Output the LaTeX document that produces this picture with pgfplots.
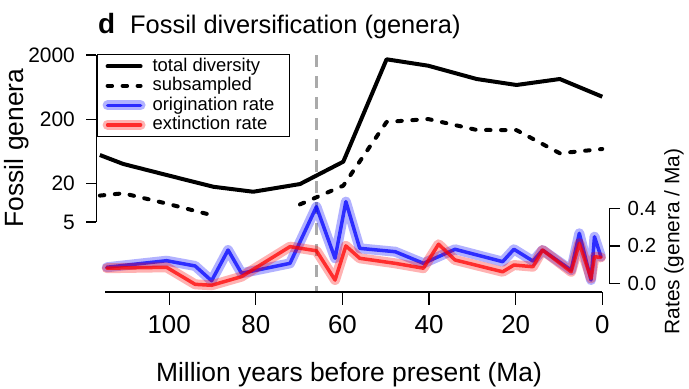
\documentclass[border=0pt]{standalone}
\usepackage{pgfplots}
\pgfplotsset{compat=1.18}
\usepackage{fontspec}
\setmainfont{Liberation Sans}
\definecolor{refgray}{RGB}{170,170,170}
\pgfplotsset{
  base/.style={scale only axis, width=512.8bp, xmin=-1.6, xmax=116.8, x dir=reverse, clip=false,
    axis line style={line width=1.2bp, black}, major tick style={line width=1.2bp, black},
    tick align=outside, /pgf/number format/assume math mode=true},
  mylegline/.style={legend image code/.code={\draw[##1] (0bp,0bp) -- (33bp,0bp);}},
  halo/.style={legend image code/.code={
     \draw[line width=10bp, #1, opacity=0.3, line cap=round] (0bp,0bp) -- (33bp,0bp);
     \draw[line width=3.5bp, #1, opacity=0.75, line cap=round] (0bp,0bp) -- (33bp,0bp);}},
}
\pgfplotstableread{
x y
116.0 55.3
110.6 40.1
100.6 27.0
89.8 17.7
80.6 14.8
69.8 19.5
59.8 43.5
49.8 1714
40.2 1362
29.0 845
19.8 682
9.8 845
0.0 448
}\total
\pgfplotstableread{
x y
116.0 12.9
110.6 14.0
100.6 9.7
89.8 6.3
}\subA
\pgfplotstableread{
x y
69.8 9.4
59.8 18.4
49.8 181
40.2 201
29.0 136
19.8 135
9.8 58.8
0.0 68.6
}\subB
\pgfplotstableread{
x y
114.4 0.086
100.6 0.121
94.0 0.093
90.2 0.014
86.4 0.178
83.3 0.054
72.1 0.107
66.0 0.409
61.7 0.134
59.2 0.436
56.0 0.187
47.8 0.169
41.3 0.107
34.0 0.182
23.0 0.116
20.4 0.182
16.0 0.119
13.8 0.178
7.2 0.071
5.3 0.267
2.6 0.018
1.8 0.249
0.3 0.142
}\orig
\pgfplotstableread{
x y
114.4 0.081
100.6 0.086
94.0 -0.005
90.2 -0.01
83.3 0.036
72.1 0.196
66.0 0.174
61.7 0.018
59.2 0.200
56.0 0.134
47.8 0.107
41.3 0.081
37.8 0.209
34.0 0.125
23.0 0.062
20.4 0.098
16.0 0.089
13.8 0.178
7.2 0.062
5.3 0.214
2.6 0.027
1.8 0.142
0.3 0.139
}\extn
\begin{document}
\begin{tikzpicture}[x=1bp,y=1bp]
\path[use as bounding box] (0,0) rectangle (689,388);
% genera axis
\begin{axis}[base, at={(96.4bp,166bp)}, anchor=south west, height=167bp,
  ymode=log, ymin=5, ymax=2000, axis x line=none, axis y line*=left,
  ytick={5,20,200,2000}, yticklabels={5,20,200,2000}, yminorticks=false,
  major tick length=10bp, yticklabel style={font=\fontsize{21}{21}\selectfont, xshift=-8bp},
  legend style={at={(axis description cs:0,1)}, anchor=north west, xshift=0.3bp, yshift=1bp,
    draw=black, line width=1.2bp, font=\fontsize{18.5}{20}\selectfont, inner xsep=5.3bp, inner ysep=2bp,
    row sep=0pt, column sep=6bp, nodes={inner sep=1bp, text height=13.5bp, text depth=4bp}},
  legend cell align=left]
\addplot[refgray, line width=3bp, dash pattern=on 12bp off 9bp, forget plot] coordinates {(66,2000) (66,0.41)};
\addplot[black, line width=4bp, line join=round, forget plot] table {\total};
\addplot[black, line width=4bp, line join=round, line cap=round, dash pattern=on 4.5bp off 10.5bp, forget plot] table {\subA};
\addplot[black, line width=4bp, line join=round, line cap=round, dash pattern=on 4.5bp off 10.5bp, forget plot] table {\subB};
\addlegendimage{mylegline, black, line width=4bp, line cap=round}
\addlegendentry{total diversity}
\addlegendimage{mylegline, black, line width=4bp, line cap=round, dash pattern=on 4.5bp off 10.5bp}
\addlegendentry{subsampled}
\addlegendimage{halo=blue}
\addlegendentry{origination rate\rule{8.4bp}{0pt}}
\addlegendimage{halo=red}
\addlegendentry{extinction rate}
\end{axis}
% rates axis
\begin{axis}[base, at={(96.4bp,104.6bp)}, anchor=south west, height=75bp,
  ymin=0, ymax=0.4, axis x line=none, axis y line*=right,
  ytick={0,0.2,0.4}, yticklabels={0.0,0.2,0.4}, major tick length=11bp,
  yticklabel style={font=\fontsize{20.5}{20.5}\selectfont, xshift=4bp}]
\addplot[blue, opacity=0.3, line width=10bp, line join=round, line cap=round] table {\orig};
\addplot[blue, opacity=0.75, line width=3.5bp, line join=round, line cap=round] table {\orig};
\addplot[red, opacity=0.3, line width=10bp, line join=round, line cap=round] table {\extn};
\addplot[red, opacity=0.75, line width=3.5bp, line join=round, line cap=round] table {\extn};
\end{axis}
% x axis
\begin{axis}[scale only axis, width=497.2bp, height=20bp, at={(105.1bp,96bp)}, anchor=south west,
  xmin=0, xmax=114.8, x dir=reverse, ymin=0, ymax=1, axis y line=none, axis x line*=bottom,
  axis line style={line width=1.2bp, black}, major tick style={line width=1.2bp, black},
  tick align=outside, major tick length=12.5bp, /pgf/number format/assume math mode=true,
  xtick={0,20,40,60,80,100}, xticklabel style={font=\fontsize{26}{26}\selectfont, yshift=-7bp}]
\end{axis}
\node[anchor=base, font=\fontsize{26.5}{26.5}\selectfont] at (349,7) {Million years before present (Ma)};
\node[rotate=90, font=\fontsize{26.5}{26.5}\selectfont] at (17,240) {Fossil genera};
\node[rotate=90, font=\fontsize{21}{21}\selectfont] at (674,146.5) {Rates (genera / Ma)};
\node[anchor=base west, inner sep=0pt, font=\fontsize{28}{28}\selectfont\bfseries] at (98,355) {d};
\node[anchor=base west, inner sep=0pt, font=\fontsize{25.5}{25.5}\selectfont] at (130,355) {Fossil diversification (genera)};
\end{tikzpicture}
\end{document}
